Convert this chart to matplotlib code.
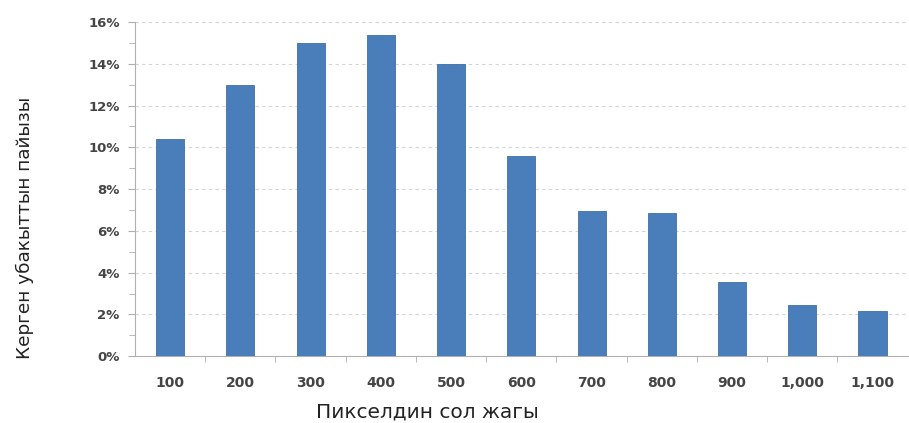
import matplotlib
matplotlib.use("Agg")
import matplotlib.pyplot as plt
from matplotlib.ticker import MultipleLocator, FuncFormatter

categories = ["100", "200", "300", "400", "500", "600", "700", "800", "900", "1,000", "1,100"]
values = [10.4, 13.0, 15.0, 15.4, 14.0, 9.6, 6.95, 6.85, 3.55, 2.45, 2.15]

fig = plt.figure(figsize=(9.09, 4.23), dpi=100)
ax = fig.add_axes([0.1485, 0.158, 0.85, 0.79])

x = range(len(categories))
ax.bar(x, values, width=0.4, color="#4a7ebb", edgecolor="#3f6fa8", linewidth=0.6, zorder=3)

ax.set_xlim(-0.5, len(categories) - 0.5)
ax.set_ylim(0, 16)
ax.yaxis.set_major_locator(MultipleLocator(2))
ax.yaxis.set_minor_locator(MultipleLocator(1))
ax.yaxis.set_major_formatter(FuncFormatter(lambda v, p: f"{v:.0f}%"))
ax.set_xticks(list(x))
ax.set_xticklabels(categories)
ax.set_xticks([i + 0.5 for i in range(len(categories) - 1)], minor=True)

ax.grid(axis="y", which="major", linestyle=(0, (3, 3)), color="#d4d4d4", linewidth=0.8, zorder=0)
for s in ["top", "right"]:
    ax.spines[s].set_visible(False)
ax.spines["left"].set_color("#b0b0b0")
ax.spines["bottom"].set_color("#b0b0b0")

ax.tick_params(axis="y", which="major", length=5, color="#b0b0b0", labelsize=9.5, labelcolor="#454545", pad=6)
ax.tick_params(axis="y", which="minor", length=4, color="#b0b0b0")
ax.tick_params(axis="x", which="major", length=0, labelsize=10, labelcolor="#454545", pad=14)
ax.tick_params(axis="x", which="minor", length=4, color="#b0b0b0")
for lbl in ax.get_xticklabels() + ax.get_yticklabels():
    lbl.set_fontweight("bold")

# axis titles sit off-centre in the original
fig.text(427 / 909, 1 - 412 / 423, "Пикселдин сол жагы", fontsize=14.5,
         color="#222222", ha="center", va="center")
fig.text(25 / 909, 1 - 228 / 423, "Керген убакыттын пайызы", fontsize=13.3,
         color="#222222", ha="center", va="center", rotation=90)

fig.savefig("out.png", dpi=100)
